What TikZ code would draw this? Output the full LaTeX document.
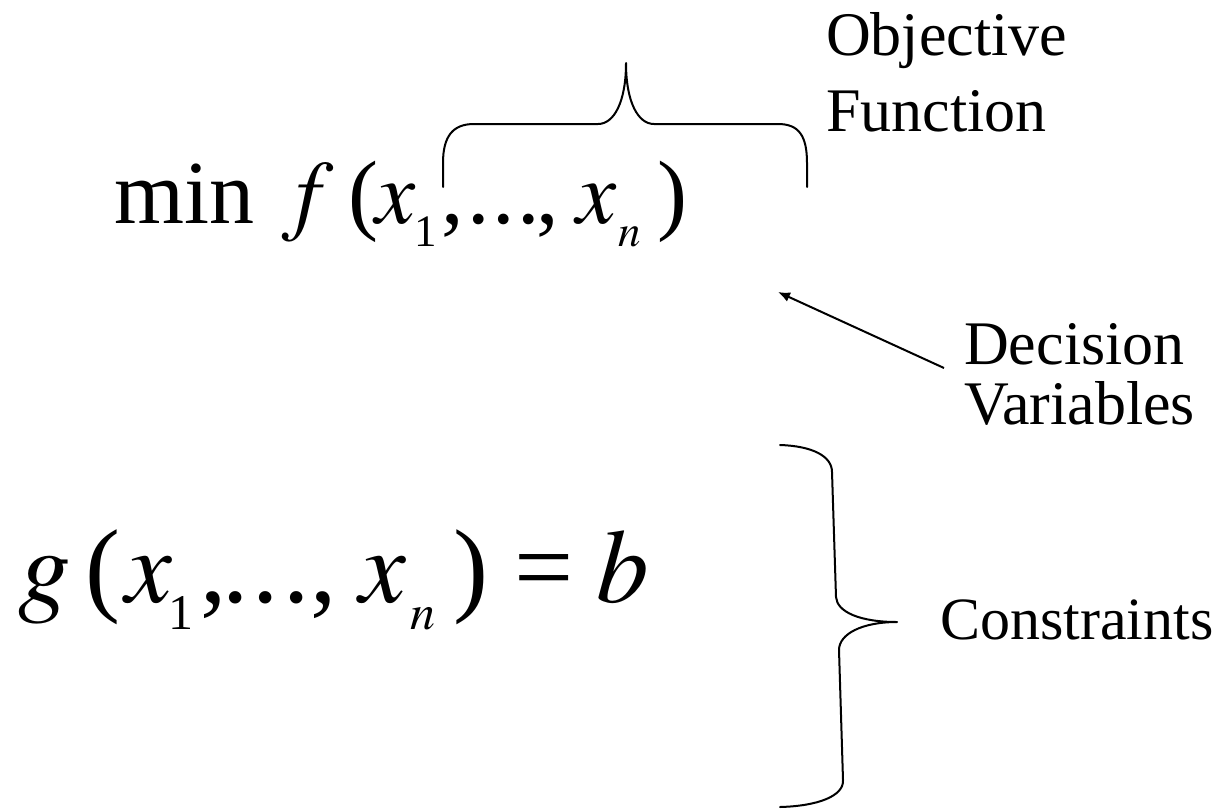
\documentclass[tikz,border=0pt]{standalone}
\usepackage{mathptmx}
\usepackage{fontspec}
\setmainfont{Liberation Serif}
\usetikzlibrary{arrows.meta, positioning}

% lowered subscript: depth, size, text
\newcommand{\lsub}[3]{\raisebox{-#1pt}{\fontsize{#2}{#2}\selectfont #3}}

\tikzset{
  formula/.style={inner sep=0pt, anchor=base west},
  note/.style={inner sep=0pt, align=left, anchor=north west},
  bracepath/.style={line width=2pt, line join=round, line cap=round},
}

\begin{document}
\begin{tikzpicture}[x=1pt, y=-1pt]
  \useasboundingbox (0,0) rectangle (1228,809);

  % objective
  \node[formula, font=\fontsize{90}{90}\selectfont] (minf) at (114,223)
    {min\kern28pt$f$\kern15pt(\kern-3pt$x$\kern-2pt\lsub{23}{45}{1}\kern4.5pt,\kern4.5pt.\kern2pt.\kern2pt.\kern-3.5pt,\kern17.5pt$x$\kern2pt\lsub{23}{45}{$n$}\kern17pt)};

  % constraint
  \node[formula, font=\fontsize{105}{105}\selectfont] (gcon) at (18,602)
    {$g$\kern14.5pt(\kern5pt$x$\kern-4pt\lsub{27}{50}{1}\kern7.5pt,\kern-4pt.\kern4pt.\kern4pt.\kern1pt,\kern23pt$x$\kern3.4pt\lsub{27}{50}{$n$}\kern18pt)\kern26pt=\kern23pt$b$};

  % labels
  \node[note, font=\fontsize{62}{76}\selectfont] (objfun) at (826,12) {Objective\\Function};
  \node[note, font=\fontsize{62}{60}\selectfont] (decvar) at (964,323) {Decision\\Variables};
  \node[formula, font=\fontsize{60}{60}\selectfont] (constr) at (940,639) {Constraints};

  % arrow to the variables
  \coordinate (dvtail) at (944,368);
  \coordinate (dvhead) at (778,292);
  \draw[line width=2pt, -{Latex[length=12pt, width=10pt]}] (dvtail) -- (dvhead);

  % brace over the function
  \draw[bracepath] (443,187) -- (443,163)
    .. controls (443,136) and (453,124) .. (474,124) -- (598,124)
    .. controls (614,124) and (626,102) .. (626,63)
    .. controls (626,102) and (638,124) .. (654,124) -- (778,124)
    .. controls (799,124) and (807,136) .. (807,163) -- (807,187);

  % brace for the constraints
  \draw[bracepath] (780,445)
    .. controls (812,446) and (832,456) .. (832,472) -- (836,597)
    .. controls (837,612) and (860,622) .. (897,622)
    .. controls (862,622) and (839,634) .. (839,650) -- (843,780)
    .. controls (844,796) and (818,806) .. (780,807);
\end{tikzpicture}
\end{document}
